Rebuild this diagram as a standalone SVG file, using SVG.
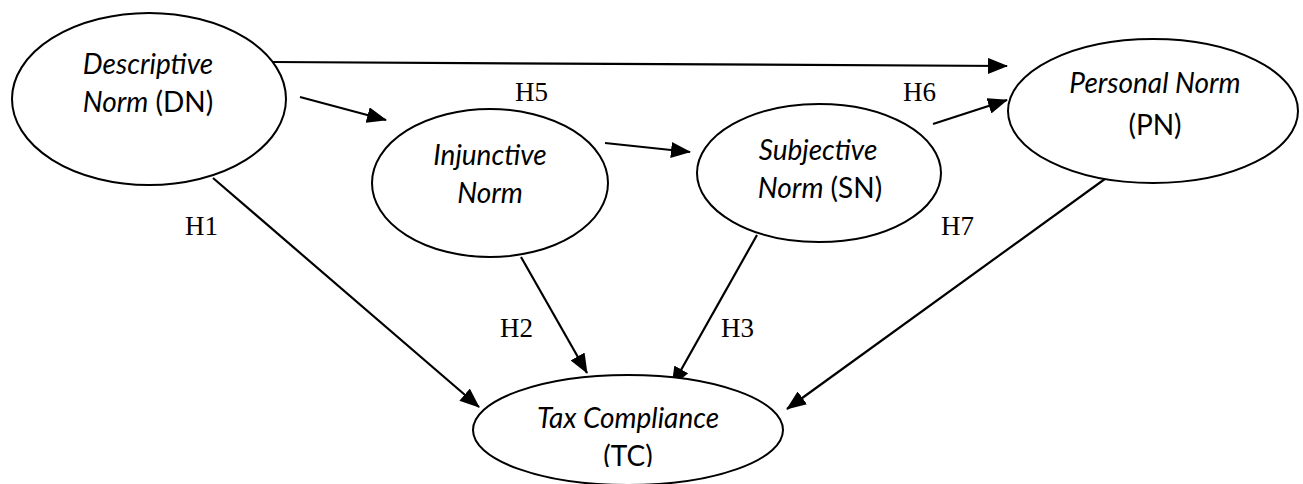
<svg xmlns="http://www.w3.org/2000/svg" width="1303" height="484" viewBox="0 0 1303 484">
<style>
.node ellipse{fill:#fff;stroke:#000;stroke-width:2}
.t{font-family:Lato,"Open Sans",sans-serif;font-size:28px;fill:#000;text-anchor:middle}
.i{font-style:italic}
.h{font-family:"Liberation Serif","Times New Roman",serif;font-size:27px;fill:#000}
.c line{stroke:#000;stroke-width:2.2;marker-end:url(#ah)}
</style>
<defs>
<marker id="ah" markerUnits="userSpaceOnUse" markerWidth="20" markerHeight="16" refX="19" refY="8" orient="auto">
<path d="M0,0 L20,8 L0,16 Z" fill="#000"/>
</marker>
<clipPath id="tcclip"><rect x="0" y="0" width="1303" height="467"/></clipPath>
</defs>
<rect width="1303" height="484" fill="#fff"/>
<g id="connectors" class="c">
<line x1="273" y1="62" x2="1007" y2="66"/>
<line x1="300" y1="97" x2="386" y2="120"/>
<line x1="605" y1="143" x2="690" y2="152"/>
<line x1="933" y1="124" x2="1007" y2="100"/>
<line x1="213" y1="178" x2="479" y2="407"/>
<line x1="521" y1="257" x2="587" y2="373"/>
<line x1="757" y1="235" x2="672" y2="386"/>
<line x1="1138" y1="155" x2="787" y2="409"/>
</g>
<g id="node-DN" class="node">
<ellipse cx="149" cy="99" rx="137" ry="86"/>
<text class="t" x="148" y="74"><tspan class="i">Descriptive</tspan></text>
<text class="t" x="148" y="112"><tspan class="i">Norm</tspan> (DN)</text>
</g>
<g id="node-IN" class="node">
<ellipse cx="490" cy="183" rx="118" ry="74"/>
<text class="t i" x="490" y="165">Injunctive</text>
<text class="t i" x="490" y="203">Norm</text>
</g>
<g id="node-SN" class="node">
<ellipse cx="819" cy="173" rx="122" ry="69"/>
<text class="t i" x="818" y="160">Subjective</text>
<text class="t" x="820" y="198"><tspan class="i">Norm</tspan> (SN)</text>
</g>
<g id="node-PN" class="node">
<ellipse cx="1153" cy="111" rx="145" ry="72"/>
<text class="t i" x="1155" y="93">Personal Norm</text>
<text class="t" x="1155" y="135">(PN)</text>
</g>
<g id="node-TC" class="node">
<ellipse cx="628" cy="430" rx="155" ry="55"/>
<text class="t i" x="628" y="428">Tax Compliance</text>
<text class="t" x="628" y="466" clip-path="url(#tcclip)">(TC)</text>
</g>
<g id="labels">
<text class="h" x="515" y="101">H5</text>
<text class="h" x="903" y="101">H6</text>
<text class="h" x="185" y="235">H1</text>
<text class="h" x="941" y="235">H7</text>
<text class="h" x="500" y="337">H2</text>
<text class="h" x="721" y="337">H3</text>
</g>
</svg>
